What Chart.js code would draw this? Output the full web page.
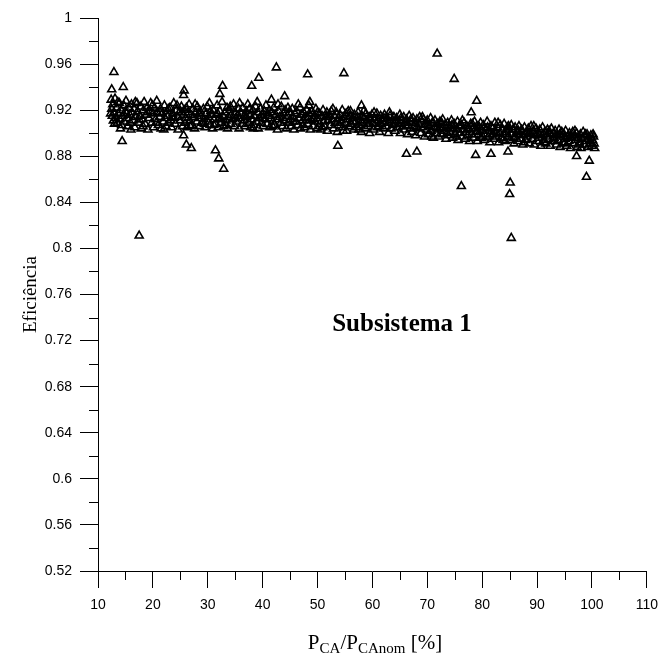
<!DOCTYPE html>
<html>
<head>
<meta charset="utf-8">
<script src="https://cdn.jsdelivr.net/npm/chart.js@4/dist/chart.umd.min.js"></script>
<style>
  html, body { margin: 0; padding: 0; background: #fff; }
  #wrap { position: relative; width: 667px; height: 655px; }
  #chart { position: absolute; left: 0; top: 0; }
  .note {
    position: absolute; left: 292px; top: 309px; width: 220px; text-align: center;
    font: bold 25px "Liberation Serif", "Times New Roman", serif; color: #000;
  }
  .xtitle {
    position: absolute; left: 225px; top: 630px; width: 300px; text-align: center;
    font: 21px "Liberation Serif", "Times New Roman", serif; color: #000; line-height: 24px;
  }
  .xtitle sub { font-size: 15px; vertical-align: -4px; line-height: 0; }
</style>
</head>
<body>
<div id="wrap">
  <canvas id="chart" width="667" height="655"></canvas>
  <div class="note">Subsistema 1</div>
  <div class="xtitle">P<sub>CA</sub>/P<sub>CAnom</sub> [%]</div>
</div>
<script>
/* ── Data: efficiency vs. AC power fraction ── */

const xTicks = [10, 20, 30, 40, 50, 60, 70, 80, 90, 100, 110];
const yTicks = [0.52, 0.56, 0.6, 0.64, 0.68, 0.72, 0.76, 0.8, 0.84, 0.88, 0.92, 0.96, 1];

const band10to30 = [
  [12.4,0.929],[12.5,0.921],[12.6,0.915],[12.7,0.925],[12.8,0.911],[12.9,0.918],[13.1,0.930],[13.2,0.913],[13.4,0.922],[13.5,0.909],[13.7,0.917],[13.9,0.926],[14.0,0.912],[14.2,0.920],[14.3,0.907],[14.5,0.915],[14.7,0.924],[14.8,0.910],
  [15.0,0.919],[15.1,0.928],[15.3,0.913],[15.4,0.906],[15.6,0.922],[15.8,0.916],[15.9,0.909],[16.1,0.925],[16.2,0.918],[16.4,0.911],[16.6,0.921],[16.7,0.905],[16.9,0.914],
  [17.1,0.926],[17.2,0.919],[17.4,0.909],[17.6,0.915],[17.8,0.923],[17.9,0.904],[18.1,0.912],[18.3,0.920],[18.4,0.927],[18.6,0.908],[18.8,0.916],[18.9,0.922],[19.1,0.903],
  [19.3,0.913],[19.5,0.919],[19.6,0.926],[19.8,0.909],[20.0,0.917],[20.1,0.905],[20.3,0.922],[20.5,0.912],[20.7,0.928],[20.8,0.918],[21.0,0.907],
  [21.2,0.914],[21.4,0.921],[21.5,0.904],[21.7,0.917],[21.9,0.910],[22.1,0.924],[22.2,0.913],[22.4,0.906],[22.6,0.919],[22.7,0.915],[22.9,0.909],
  [23.1,0.922],[23.3,0.911],[23.4,0.905],[23.6,0.917],[23.8,0.926],[23.9,0.913],[24.1,0.908],[24.3,0.920],[24.5,0.914],[24.6,0.903],[24.8,0.918],
  [25.0,0.911],[25.2,0.923],[25.4,0.906],[25.5,0.916],[25.7,0.920],[25.9,0.909],[26.0,0.913],[26.2,0.905],[26.4,0.918],[26.6,0.925],[26.7,0.911],[26.9,0.916],
  [27.1,0.907],[27.3,0.921],[27.4,0.914],[27.6,0.904],[27.8,0.918],[28.0,0.910],[28.1,0.923],[28.3,0.913],[28.5,0.906],[28.6,0.919],[28.8,0.915],[29.0,0.909],
  [29.2,0.921],[29.3,0.912],[29.5,0.905],[29.7,0.917],[29.9,0.923],[30.0,0.910],[30.2,0.914],[30.4,0.907],[30.5,0.919],[30.7,0.916],[30.9,0.904]
];

const band30to50 = [
  [31.0,0.920],[31.2,0.912],[31.4,0.908],[31.5,0.916],[31.7,0.924],[31.9,0.905],[32.1,0.913],[32.2,0.919],[32.4,0.909],[32.6,0.927],[32.8,0.915],[32.9,0.906],
  [33.1,0.918],[33.3,0.911],[33.5,0.922],[33.6,0.904],[33.8,0.914],[34.0,0.920],[34.2,0.908],[34.3,0.916],[34.5,0.912],[34.7,0.925],[34.9,0.906],
  [35.0,0.918],[35.2,0.910],[35.4,0.915],[35.6,0.921],[35.7,0.904],[35.9,0.913],[36.1,0.917],[36.3,0.908],[36.4,0.922],[36.6,0.911],[36.8,0.906],[37.0,0.919],
  [37.1,0.914],[37.3,0.925],[37.5,0.909],[37.7,0.916],[37.8,0.905],[38.0,0.912],[38.2,0.920],[38.4,0.907],[38.5,0.915],[38.7,0.923],[38.9,0.910],
  [39.1,0.918],[39.2,0.904],[39.4,0.913],[39.6,0.921],[39.8,0.909],[39.9,0.916],[40.1,0.906],[40.3,0.919],[40.5,0.912],[40.6,0.924],[40.8,0.908],
  [41.0,0.915],[41.2,0.920],[41.3,0.905],[41.5,0.913],[41.7,0.918],[41.9,0.910],[42.0,0.922],[42.2,0.907],[42.4,0.916],[42.6,0.912],[42.7,0.903],
  [42.9,0.919],[43.1,0.914],[43.3,0.909],[43.4,0.923],[43.6,0.906],[43.8,0.917],[44.0,0.911],[44.1,0.920],[44.3,0.904],[44.5,0.915],[44.7,0.909],[44.8,0.918],
  [45.0,0.912],[45.2,0.906],[45.4,0.921],[45.5,0.914],[45.7,0.903],[45.9,0.917],[46.1,0.910],[46.2,0.919],[46.4,0.907],[46.6,0.913],[46.8,0.922],[46.9,0.904],
  [47.1,0.916],[47.3,0.911],[47.5,0.918],[47.6,0.905],[47.8,0.914],[48.0,0.920],[48.2,0.908],[48.3,0.913],[48.5,0.917],[48.7,0.903],[48.9,0.911],
  [49.0,0.919],[49.2,0.906],[49.4,0.915],[49.6,0.910],[49.7,0.921],[49.9,0.904]
];

const band50to70 = [
  [50.1,0.913],[50.3,0.917],[50.4,0.908],[50.6,0.903],[50.8,0.915],[51.0,0.920],[51.1,0.910],[51.3,0.906],[51.5,0.914],[51.7,0.918],[51.8,0.902],[52.0,0.911],
  [52.2,0.916],[52.4,0.907],[52.5,0.919],[52.7,0.912],[52.9,0.904],[53.1,0.915],[53.2,0.909],[53.4,0.918],[53.6,0.901],[53.8,0.913],[53.9,0.907],
  [54.1,0.916],[54.3,0.911],[54.5,0.920],[54.6,0.905],[54.8,0.914],[55.0,0.909],[55.2,0.917],[55.3,0.902],[55.5,0.912],[55.7,0.906],[55.9,0.915],[56.0,0.919],
  [56.2,0.908],[56.4,0.913],[56.6,0.903],[56.7,0.916],[56.9,0.910],[57.1,0.905],[57.3,0.914],[57.4,0.918],[57.6,0.907],[57.8,0.911],[58.0,0.901],[58.1,0.915],
  [58.3,0.909],[58.5,0.913],[58.7,0.904],[58.8,0.917],[59.0,0.910],[59.2,0.906],[59.4,0.914],[59.5,0.900],[59.7,0.912],[59.9,0.916],[60.1,0.908],
  [60.2,0.903],[60.4,0.913],[60.6,0.909],[60.8,0.917],[60.9,0.905],[61.1,0.911],[61.3,0.901],[61.5,0.915],[61.6,0.908],[61.8,0.912],[62.0,0.904],[62.2,0.916],
  [62.3,0.910],[62.5,0.906],[62.7,0.913],[62.9,0.900],[63.0,0.909],[63.2,0.915],[63.4,0.904],[63.6,0.911],[63.7,0.907],[63.9,0.914],[64.1,0.902],
  [64.3,0.910],[64.4,0.913],[64.6,0.905],[64.8,0.908],[65.0,0.916],[65.1,0.900],[65.3,0.911],[65.5,0.906],[65.7,0.914],[65.8,0.903],[66.0,0.909],
  [66.2,0.912],[66.4,0.899],[66.5,0.907],[66.7,0.915],[66.9,0.904],[67.1,0.910],[67.2,0.901],[67.4,0.913],[67.6,0.906],[67.8,0.909],[67.9,0.898],
  [68.1,0.912],[68.3,0.904],[68.5,0.908],[68.6,0.914],[68.8,0.900],[69.0,0.910],[69.2,0.905],[69.3,0.912],[69.5,0.897],[69.7,0.907],[69.9,0.903]
];

const band70to85 = [
  [70.0,0.911],[70.2,0.899],[70.4,0.906],[70.6,0.913],[70.7,0.902],[70.9,0.909],[71.1,0.896],[71.3,0.905],[71.4,0.911],[71.6,0.900],[71.8,0.908],[72.0,0.903],
  [72.1,0.897],[72.3,0.910],[72.5,0.905],[72.7,0.899],[72.8,0.912],[73.0,0.902],[73.2,0.907],[73.4,0.895],[73.5,0.904],[73.7,0.909],[73.9,0.898],
  [74.1,0.906],[74.2,0.901],[74.4,0.911],[74.6,0.896],[74.8,0.904],[74.9,0.908],[75.1,0.899],[75.3,0.903],[75.5,0.910],[75.6,0.894],[75.8,0.906],[76.0,0.900],
  [76.2,0.907],[76.3,0.897],[76.5,0.903],[76.7,0.909],[76.9,0.895],[77.0,0.901],[77.2,0.906],[77.4,0.898],[77.6,0.904],[77.7,0.893],[77.9,0.908],
  [78.1,0.899],[78.3,0.904],[78.4,0.896],[78.6,0.910],[78.8,0.901],[79.0,0.906],[79.1,0.893],[79.3,0.899],[79.5,0.905],[79.7,0.909],[79.8,0.896],
  [80.0,0.902],[80.2,0.907],[80.4,0.894],[80.5,0.899],[80.7,0.904],[80.9,0.910],[81.1,0.897],[81.2,0.902],[81.4,0.892],[81.6,0.906],[81.8,0.899],[81.9,0.904],
  [82.1,0.895],[82.3,0.909],[82.5,0.901],[82.6,0.897],[82.8,0.905],[83.0,0.892],[83.2,0.900],[83.3,0.907],[83.5,0.896],[83.7,0.903],[83.9,0.899],
  [84.0,0.908],[84.2,0.893],[84.4,0.901],[84.6,0.905],[84.7,0.897],[84.9,0.903]
];

const band85to101 = [
  [85.1,0.894],[85.3,0.907],[85.4,0.899],[85.6,0.903],[85.8,0.891],[86.0,0.905],[86.1,0.897],[86.3,0.901],[86.5,0.893],[86.7,0.906],[86.8,0.899],[87.0,0.895],
  [87.2,0.903],[87.4,0.890],[87.5,0.898],[87.7,0.905],[87.9,0.894],[88.1,0.901],[88.2,0.897],[88.4,0.904],[88.6,0.891],[88.8,0.899],[88.9,0.906],
  [89.1,0.895],[89.3,0.902],[89.5,0.890],[89.6,0.898],[89.8,0.904],[90.0,0.893],[90.2,0.900],[90.3,0.896],[90.5,0.903],[90.7,0.889],[90.9,0.898],[91.0,0.905],
  [91.2,0.894],[91.4,0.901],[91.6,0.891],[91.7,0.897],[91.9,0.903],[92.1,0.895],[92.3,0.899],[92.4,0.889],[92.6,0.904],[92.8,0.893],[93.0,0.900],[93.1,0.896],
  [93.3,0.902],[93.5,0.890],[93.7,0.898],[93.8,0.894],[94.0,0.903],[94.2,0.888],[94.4,0.897],[94.5,0.901],[94.7,0.892],[94.9,0.899],[95.1,0.895],
  [95.2,0.902],[95.4,0.889],[95.6,0.897],[95.8,0.893],[95.9,0.900],[96.1,0.887],[96.3,0.896],[96.5,0.901],[96.6,0.891],[96.8,0.898],[97.0,0.894],
  [97.2,0.900],[97.3,0.888],[97.5,0.896],[97.7,0.892],[97.9,0.899],[98.0,0.887],[98.2,0.895],[98.4,0.901],[98.6,0.890],[98.7,0.897],[98.9,0.893],
  [99.1,0.899],[99.3,0.888],[99.4,0.895],[99.6,0.891],[99.8,0.898],[100.0,0.889],[100.1,0.894],[100.3,0.897],[100.4,0.891]
];

/* second pass over the band: the points that sit between the ones above */
const bandExtra = [
  [12.3,0.917],[13.0,0.908],[13.6,0.927],[14.1,0.904],[15.2,0.917],[16.0,0.903],[16.8,0.927],[17.5,0.912],[18.2,0.906],[19.0,0.918],[19.9,0.924],[20.6,0.909],
  [21.3,0.918],[22.0,0.903],[22.8,0.921],[23.5,0.914],[24.4,0.924],[25.3,0.918],[26.1,0.922],[26.8,0.906],[27.7,0.925],[28.4,0.917],[29.4,0.908],[30.3,0.926],
  [31.1,0.907],[31.8,0.917],[32.5,0.912],[33.4,0.907],[34.1,0.923],[35.1,0.913],[35.8,0.926],[36.7,0.915],[37.6,0.921],[38.3,0.904],[39.0,0.927],[40.0,0.913],
  [40.9,0.917],[41.8,0.906],[42.8,0.925],[43.7,0.913],[44.6,0.922],[45.6,0.910],[46.5,0.925],[47.4,0.907],[48.4,0.924],[49.3,0.912],[50.0,0.918],[50.9,0.905],
  [51.9,0.914],[52.8,0.921],[53.7,0.910],[54.7,0.902],[55.6,0.919],[56.5,0.910],[57.5,0.903],[58.4,0.919],[59.3,0.908],[60.3,0.918],[61.2,0.906],[62.1,0.913],
  [63.1,0.918],[64.0,0.908],[65.2,0.913],[66.1,0.906],[67.0,0.912],[68.0,0.905],[69.1,0.914],[70.1,0.907],[70.8,0.897],[71.7,0.904],[72.6,0.909],[73.6,0.900],
  [74.5,0.907],[75.4,0.897],[76.4,0.911],[77.3,0.903],[78.2,0.908],[79.2,0.902],[80.1,0.897],[81.0,0.905],[82.0,0.899],[82.9,0.909],[83.8,0.894],[84.8,0.906],
  [85.7,0.896],[86.6,0.902],[87.6,0.892],[88.5,0.900],[89.4,0.906],[90.4,0.899],[91.3,0.892],[92.2,0.902],[93.2,0.893],[94.1,0.899],[95.0,0.891],[96.0,0.897],
  [96.9,0.902],[97.8,0.890],[98.8,0.899],[99.7,0.893],[100.2,0.899],[100.5,0.887]
];

const outliers = [
  [12.5,0.938],[12.9,0.953],[14.6,0.940],[14.4,0.893],[17.5,0.811],[25.7,0.937],[25.6,0.933],[25.6,0.898],[26.1,0.890],[27.0,0.887],
  [32.7,0.941],[32.2,0.934],[31.4,0.885],[32.0,0.878],[32.9,0.869],[38.0,0.941],[39.3,0.948],[42.5,0.957],[41.6,0.929],[44.0,0.932],
  [48.2,0.951],[54.8,0.952],[48.6,0.927],[58.0,0.924],[53.7,0.889],[66.2,0.882],[68.1,0.884],[71.8,0.969],[74.9,0.947],[76.2,0.854],
  [79.0,0.928],[78.0,0.918],[78.8,0.881],[81.6,0.882],[84.7,0.884],[85.1,0.857],[85.0,0.847],[85.3,0.809],[97.2,0.880],[99.5,0.876],[99.0,0.862]
];

/* ── Minor ticks (every 5 % on x, every 0.02 on y) ── */
const minorTicks = {
  id: "minorTicks",
  afterDraw(chart) {
    const { ctx, chartArea, scales } = chart;
    ctx.save();
    ctx.strokeStyle = "#000";
    ctx.lineWidth = 1;
    ctx.beginPath();
    for (let i = 0; i < xTicks.length - 1; i++) {
      const px = Math.round(scales.x.getPixelForValue((xTicks[i] + xTicks[i + 1]) / 2)) + 0.5;
      ctx.moveTo(px, chartArea.bottom);
      ctx.lineTo(px, chartArea.bottom + 9);
    }
    for (let i = 0; i < yTicks.length - 1; i++) {
      const py = Math.round(scales.y.getPixelForValue((yTicks[i] + yTicks[i + 1]) / 2)) + 0.5;
      ctx.moveTo(chartArea.left - 9, py);
      ctx.lineTo(chartArea.left, py);
    }
    ctx.stroke();
    ctx.restore();
  }
};

const allPoints = [...band10to30, ...band30to50, ...band50to70, ...band70to85, ...band85to101, ...bandExtra, ...outliers];

new Chart(document.getElementById("chart"), {
  type: "scatter",
  data: {
    datasets: [{
      data: allPoints.map(([x, y]) => ({ x, y })),
      pointStyle: "triangle",
      pointRadius: 4.6,
      pointBorderWidth: 1.6,
      borderColor: "#000",
      backgroundColor: "rgba(0,0,0,0)"
    }]
  },
  options: {
    responsive: false,
    animation: false,
    devicePixelRatio: 1,
    layout: { padding: { left: 0, top: 18, right: 15, bottom: 0 } },
    plugins: { legend: { display: false }, tooltip: { enabled: false } },
    scales: {
      x: {
        type: "linear", min: 10, max: 110,
        afterBuildTicks: s => { s.ticks = xTicks.map(v => ({ value: v })); },
        afterFit: s => { s.height = 84; },
        ticks: { color: "#000", padding: 9, maxRotation: 0, autoSkip: false,
                 font: { family: "Liberation Sans", size: 14 } },
        grid: { drawOnChartArea: false, tickLength: 17, color: "#000" },
        border: { color: "#000", width: 1 }
      },
      y: {
        type: "linear", min: 0.52, max: 1,
        afterBuildTicks: s => { s.ticks = yTicks.map(v => ({ value: v })); },
        afterFit: s => { s.width = 98; },
        ticks: { color: "#000", padding: 8, autoSkip: false,
                 font: { family: "Liberation Sans", size: 14 },
                 callback: v => String(+v.toFixed(2)) },
        grid: { drawOnChartArea: false, tickLength: 18, color: "#000" },
        border: { color: "#000", width: 1 },
        title: { display: true, text: "Eficiência", color: "#000", padding: { top: 20, bottom: 0 },
                 font: { family: "Liberation Serif", size: 19 } }
      }
    }
  },
  plugins: [minorTicks]
});
</script>
</body>
</html>
